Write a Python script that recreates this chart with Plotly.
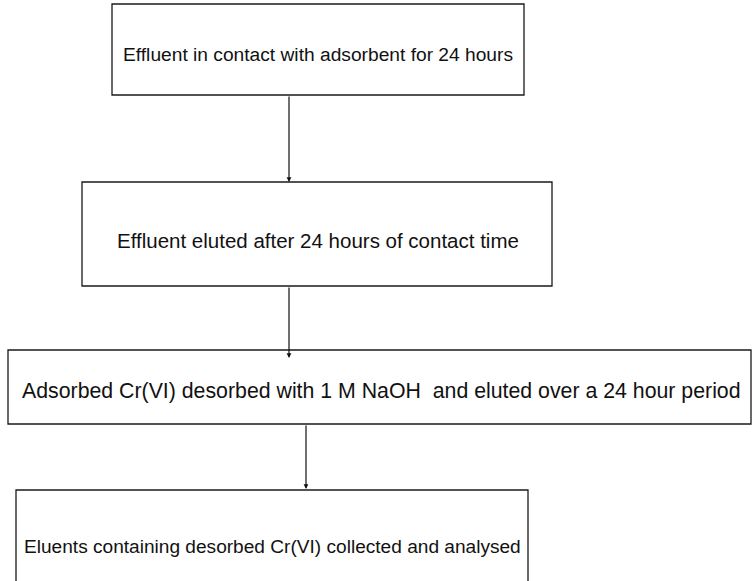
import plotly.graph_objects as go

# Flowchart content
steps = [
    "Effluent in contact with adsorbent for 24 hours",
    "Effluent eluted after 24 hours of contact time",
    "Adsorbed Cr(VI) desorbed with 1 M NaOH\u00a0\u00a0and eluted over a 24 hour period",
    "Eluents containing desorbed Cr(VI) collected and analysed",
]

# Layout geometry (page pixel space), kept separate from the content
box_x0 = [112, 82, 8, 16]
box_y0 = [4, 182, 350, 490]
box_x1 = [524, 552, 751, 528]
box_y1 = [95, 286, 424, 600]
text_x = [318, 318, 381, 272]
text_y = [54, 240, 391, 546]
font_sizes = [19.2, 20.5, 21.3, 19.1]
arrow_x = [289, 289, 306]
arrow_y0 = [95, 286, 424]
arrow_y1 = [182, 358, 489]

W, H = 752, 581
fig = go.Figure()
fig.add_trace(go.Scatter(x=[0, W], y=[0, H], mode="markers",
                         marker=dict(opacity=0), hoverinfo="skip", showlegend=False))

for i, label in enumerate(steps):
    fig.add_shape(type="rect", x0=box_x0[i], y0=box_y0[i], x1=box_x1[i], y1=box_y1[i],
                  line=dict(color="#1a1a1a", width=1.3), fillcolor="rgba(0,0,0,0)")
    fig.add_annotation(x=text_x[i], y=text_y[i], text=label, showarrow=False,
                       font=dict(family="Liberation Sans, Arial, sans-serif",
                                 size=font_sizes[i], color="#111111"),
                       xanchor="center", yanchor="middle")

for i in range(len(arrow_x)):
    fig.add_annotation(x=arrow_x[i], y=arrow_y1[i], ax=arrow_x[i], ay=arrow_y0[i],
                       xref="x", yref="y", axref="x", ayref="y", text="",
                       showarrow=True, arrowhead=2, arrowsize=0.8, arrowwidth=1.2,
                       arrowcolor="#111111", standoff=0, startstandoff=0)

fig.update_xaxes(range=[0, W], visible=False, fixedrange=True)
fig.update_yaxes(range=[H, 0], visible=False, fixedrange=True)
fig.update_layout(width=W, height=H, margin=dict(l=0, r=0, t=0, b=0),
                  plot_bgcolor="white", paper_bgcolor="white", showlegend=False)

fig.write_html("out.html", config={"displayModeBar": False},
               post_script="document.body.style.margin='0';document.body.style.overflow='hidden';")
